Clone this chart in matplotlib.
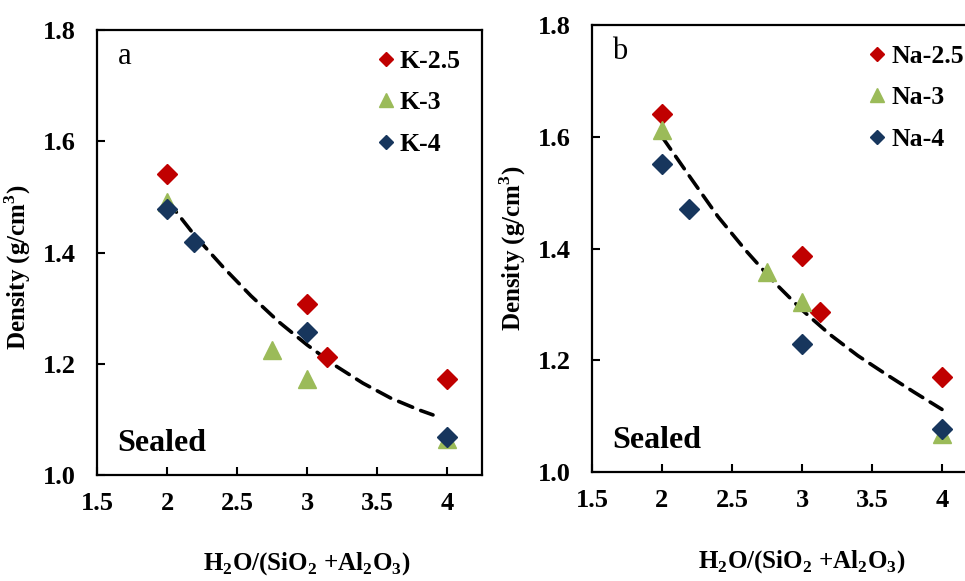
"""Density vs H2O/(SiO2+Al2O3) for sealed K- and Na-based samples."""
import matplotlib
matplotlib.use('Agg')
import matplotlib.pyplot as plt

plt.rcParams['font.family'] = ['Liberation Serif', 'DejaVu Serif']
plt.rcParams['mathtext.fontset'] = 'custom'
plt.rcParams['mathtext.rm'] = 'Liberation Serif:bold'
plt.rcParams['mathtext.bf'] = 'Liberation Serif:bold'

# ---- data ----
k25_x = [2.0, 3.0, 3.14, 4.0]
k25_y = [1.541, 1.307, 1.212, 1.173]
k3_x = [2.0, 2.75, 3.0, 4.0]
k3_y = [1.490, 1.224, 1.173, 1.064]
k4_x = [2.0, 2.19, 3.0, 4.0]
k4_y = [1.478, 1.418, 1.257, 1.068]
# dashed trend line
k_fit_x = [2.0, 2.2, 2.4, 2.6, 2.8, 3.0, 3.2, 3.4, 3.6, 3.8, 3.9]
k_fit_y = [1.494, 1.430, 1.374, 1.322, 1.275, 1.234, 1.197, 1.165, 1.138, 1.117, 1.108]

na25_x = [2.0, 3.0, 3.13, 4.0]
na25_y = [1.641, 1.387, 1.286, 1.170]
na3_x = [2.0, 2.75, 3.0, 4.0]
na3_y = [1.612, 1.358, 1.304, 1.068]
na4_x = [2.0, 2.19, 3.0, 4.0]
na4_y = [1.551, 1.470, 1.229, 1.077]
na_fit_x = [2.0, 2.2, 2.4, 2.6, 2.8, 3.0, 3.2, 3.4, 3.6, 3.8, 4.0]
na_fit_y = [1.600, 1.528, 1.457, 1.396, 1.340, 1.290, 1.246, 1.208, 1.175, 1.143, 1.112]

panels = [
    ('a', ['K-2.5', 'K-3', 'K-4'], [(k25_x, k25_y), (k3_x, k3_y), (k4_x, k4_y)],
     (k_fit_x, k_fit_y), [97 / 965, 106 / 581, 385 / 965, 445 / 581], 0.69, 0.467),
    ('b', ['Na-2.5', 'Na-3', 'Na-4'], [(na25_x, na25_y), (na3_x, na3_y), (na4_x, na4_y)],
     (na_fit_x, na_fit_y), [592 / 965, 109 / 581, 385 / 965, 447 / 581], 0.68, 0.5),
]

colors = ['#C00000', '#9BBB59', '#17365D']
markers = ['D', '^', 'D']
msizes = [10, 13.5, 10]

fig = plt.figure(figsize=(9.65, 5.81), dpi=100)

for tag, names, series, fit, rect, leg_x, ylab_y in panels:
    ax = fig.add_axes(rect)
    ax.plot(fit[0], fit[1], color='black', lw=2.6, dashes=(4.2, 2.4),
            dash_capstyle='round', zorder=2)
    for (xs, ys), name, c, m, ms in zip(series, names, colors, markers, msizes):
        ax.plot(xs, ys, linestyle='none', marker=m, ms=ms, color=c,
                markeredgecolor=c, label=name, zorder=3)
    ax.set_xlim(1.5, 4.25)
    ax.set_ylim(1.0, 1.8)
    ax.set_xticks([1.5, 2, 2.5, 3, 3.5, 4])
    ax.set_xticklabels(['1.5', '2', '2.5', '3', '3.5', '4'])
    ax.set_yticks([1.0, 1.2, 1.4, 1.6, 1.8])
    ax.set_yticklabels(['1.0', '1.2', '1.4', '1.6', '1.8'])
    ax.tick_params(direction='in', length=6, width=1.5, labelsize=19,
                   top=False, right=False)
    ax.tick_params(axis='y', pad=15)
    ax.tick_params(axis='x', pad=12)
    for lab in ax.get_xticklabels() + ax.get_yticklabels():
        lab.set_fontweight('bold')
    for sp in ax.spines.values():
        sp.set_linewidth(1.6)

    ax.set_ylabel(r'Density (g/cm$^{\mathbf{3}}$)', fontsize=18,
                  fontweight='bold')
    ax.yaxis.set_label_coords(-0.166, ylab_y)
    ax.text(0.545, -0.2, r'H$_{\mathbf{2}}$O/(SiO$_{\mathbf{2}}$ +Al$_{\mathbf{2}}$O$_{\mathbf{3}}$)',
            transform=ax.transAxes, ha='center', va='center', fontsize=18,
            fontweight='bold')
    ax.text(0.073, 0.94, tag, transform=ax.transAxes, fontsize=22,
            ha='center', va='center')
    ax.text(0.053, 0.054, 'Sealed', transform=ax.transAxes, fontsize=23,
            fontweight='bold', ha='left', va='baseline')

    ax.legend(loc='upper left', bbox_to_anchor=(leg_x, 0.99), frameon=False,
              handlelength=0.6, handletextpad=0.25, labelspacing=0.72,
              prop={'size': 18.5, 'weight': 'bold'}, markerscale=0.75,
              borderaxespad=0.2)

fig.savefig('out.png', dpi=100)
